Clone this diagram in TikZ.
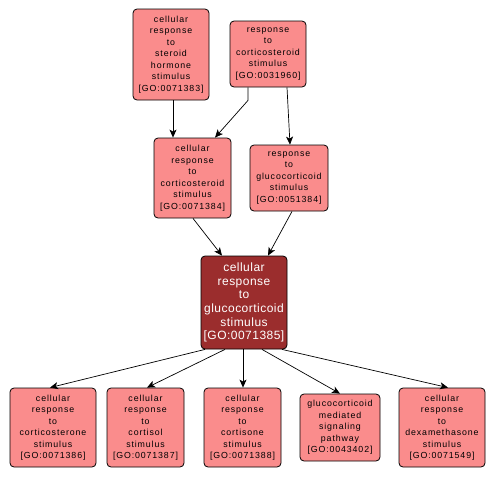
\documentclass[tikz,border=0pt]{standalone}
\usepackage{fontspec}
\setmainfont{Liberation Sans}
\usetikzlibrary{arrows.meta}
\definecolor{golight}{HTML}{FA8C8C}
\definecolor{godark}{HTML}{9B2D2D}

\begin{document}
\begin{tikzpicture}[
  x=1pt, y=-1pt,
  >={Stealth[length=8pt,width=7pt,inset=2pt]},
  term/.style={draw=black, line width=0.8pt, rounded corners=4pt,
    fill=golight, align=center, inner sep=0pt,
    font=\fontsize{8.8}{11.5}\selectfont\addfontfeature{LetterSpace=10}},
  focus/.style={term, fill=godark, text=white,
    font=\fontsize{12}{13.6}\selectfont\addfontfeature{LetterSpace=4}},
  isa/.style={->, line width=0.7pt}
]
\useasboundingbox (0,0) rectangle (496,477);

% parents
\node[term, minimum width=76, minimum height=91] (steroid) at (171,54.5)
  {cellular\\response\\to\\steroid\\hormone\\stimulus\\{[GO:0071383]}};
\node[term, minimum width=76, minimum height=66] (corticoResp) at (268,54)
  {response\\to\\corticosteroid\\stimulus\\{[GO:0031960]}};
\node[term, minimum width=77, minimum height=80] (corticoCell) at (192.5,178)
  {cellular\\response\\to\\corticosteroid\\stimulus\\{[GO:0071384]}};
\node[term, minimum width=78, minimum height=66] (glucoResp) at (289,178)
  {response\\to\\glucocorticoid\\stimulus\\{[GO:0051384]}};

% focus term
\node[focus, minimum width=86, minimum height=93] (glucoCell) at (244,302.5)
  {cellular\\response\\to\\glucocorticoid\\stimulus\\{[GO:0071385]}};

% children
\node[term, minimum width=86, minimum height=79] (corticosterone) at (53,427.5)
  {cellular\\response\\to\\corticosterone\\stimulus\\{[GO:0071386]}};
\node[term, minimum width=77, minimum height=79] (cortisol) at (145.5,427.5)
  {cellular\\response\\to\\cortisol\\stimulus\\{[GO:0071387]}};
\node[term, minimum width=77, minimum height=79] (cortisone) at (242.5,427.5)
  {cellular\\response\\to\\cortisone\\stimulus\\{[GO:0071388]}};
\node[term, minimum width=80, minimum height=67] (signaling) at (340,427.5)
  {glucocorticoid\\mediated\\signaling\\pathway\\{[GO:0043402]}};
\node[term, minimum width=86, minimum height=79] (dexamethasone) at (442,427.5)
  {cellular\\response\\to\\dexamethasone\\stimulus\\{[GO:0071549]}};

% edges
\draw[isa] ([xshift=2]steroid.south) -- ([xshift=-19.5]corticoCell.north);
\draw[isa] ([xshift=-20]corticoResp.south) -- ++(0,13)
  -- ([xshift=22.5]corticoCell.north);
\draw[isa] ([xshift=19]corticoResp.south) -- ([xshift=1]glucoResp.north);
\draw[isa] ([xshift=0.5]corticoCell.south) -- ([xshift=-22]glucoCell.north);
\draw[isa] ([xshift=3]glucoResp.south) -- ([xshift=24]glucoCell.north);

\draw[isa] ([xshift=-39]glucoCell.south) -- ([xshift=-3]corticosterone.north);
\draw[isa] ([xshift=-19]glucoCell.south) -- ([xshift=1.5]cortisol.north);
\draw[isa] ([xshift=-1]glucoCell.south) -- ([xshift=0.5]cortisone.north);
\draw[isa] ([xshift=18]glucoCell.south) -- (signaling.north);
\draw[isa] ([xshift=38]glucoCell.south) -- ([xshift=6]dexamethasone.north);
\end{tikzpicture}
\end{document}
